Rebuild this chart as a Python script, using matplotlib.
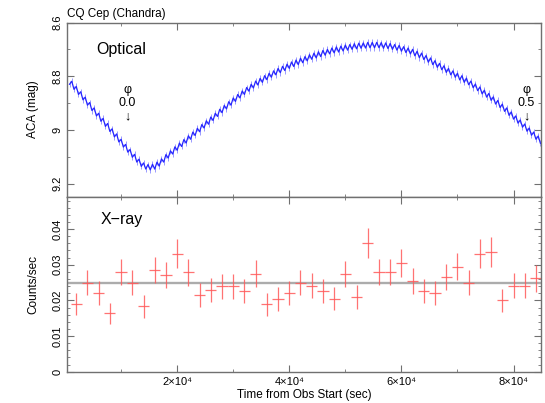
import numpy as np
import matplotlib
matplotlib.use("Agg")
import matplotlib.pyplot as plt
from matplotlib.ticker import MultipleLocator, FuncFormatter

plt.rcParams['font.family'] = ['Liberation Sans', 'DejaVu Sans']

# optical (ACA) light curve, one value every 400 s
opt_time = np.arange(800, 85000, 400)
opt_mag = [
    8.830, 8.819, 8.849, 8.838, 8.868, 8.858, 8.888, 8.878, 8.908, 8.898,
    8.928, 8.918, 8.948, 8.938, 8.968, 8.957, 8.987, 8.976, 9.006, 8.996,
    9.026, 9.015, 9.045, 9.035, 9.064, 9.054, 9.083, 9.073, 9.102, 9.091,
    9.120, 9.109, 9.136, 9.123, 9.146, 9.129, 9.149, 9.128, 9.146, 9.120,
    9.135, 9.108, 9.120, 9.092, 9.105, 9.078, 9.090, 9.063, 9.076, 9.049,
    9.062, 9.036, 9.049, 9.022, 9.035, 9.008, 9.021, 8.994, 9.007, 8.980,
    8.993, 8.966, 8.979, 8.952, 8.965, 8.938, 8.950, 8.923, 8.936, 8.909,
    8.922, 8.895, 8.908, 8.881, 8.894, 8.868, 8.881, 8.855, 8.868, 8.842,
    8.856, 8.830, 8.844, 8.818, 8.833, 8.808, 8.823, 8.798, 8.813, 8.789,
    8.804, 8.780, 8.795, 8.771, 8.787, 8.763, 8.779, 8.755, 8.771, 8.747,
    8.764, 8.740, 8.757, 8.733, 8.750, 8.727, 8.743, 8.720, 8.737, 8.714,
    8.732, 8.709, 8.727, 8.704, 8.722, 8.700, 8.717, 8.695, 8.713, 8.691,
    8.710, 8.688, 8.706, 8.684, 8.703, 8.682, 8.700, 8.679, 8.698, 8.677,
    8.696, 8.676, 8.695, 8.674, 8.694, 8.674, 8.694, 8.674, 8.694, 8.675,
    8.696, 8.676, 8.697, 8.678, 8.700, 8.682, 8.703, 8.685, 8.707, 8.690,
    8.712, 8.695, 8.717, 8.700, 8.724, 8.707, 8.731, 8.714, 8.738, 8.723,
    8.748, 8.732, 8.757, 8.742, 8.767, 8.752, 8.776, 8.761, 8.786, 8.771,
    8.795, 8.780, 8.804, 8.789, 8.814, 8.798, 8.823, 8.807, 8.832, 8.818,
    8.843, 8.829, 8.854, 8.840, 8.866, 8.852, 8.878, 8.864, 8.890, 8.877,
    8.904, 8.890, 8.917, 8.904, 8.931, 8.918, 8.946, 8.933, 8.960, 8.948,
    8.975, 8.963, 8.990, 8.978, 9.005, 8.993, 9.020, 9.008, 9.035, 9.023, 9.050,
]
opt_err = 0.011

# X-ray light curve, 2000 s bins
xray_time = np.arange(2000, 84001, 2000)
xray_halfwidth = 1000
xray_rate = [
    0.0190, 0.0250, 0.0221, 0.0164, 0.0279, 0.0250, 0.0183, 0.0285, 0.0271, 0.0331,
    0.0279, 0.0215, 0.0229, 0.0240, 0.0240, 0.0226, 0.0275, 0.0189, 0.0204, 0.0221,
    0.0250, 0.0241, 0.0226, 0.0205, 0.0274, 0.0209, 0.0361, 0.0280, 0.0280, 0.0305,
    0.0255, 0.0226, 0.0220, 0.0265, 0.0295, 0.0250, 0.0331, 0.0336, 0.0200, 0.0241,
    0.0241, 0.0262,
]
xray_err = [
    0.0031, 0.0036, 0.0034, 0.0029, 0.0037, 0.0036, 0.0031, 0.0037, 0.0037, 0.0041,
    0.0038, 0.0034, 0.0034, 0.0035, 0.0035, 0.0033, 0.0037, 0.0032, 0.0033, 0.0034,
    0.0036, 0.0035, 0.0034, 0.0033, 0.0037, 0.0033, 0.0043, 0.0037, 0.0037, 0.0039,
    0.0036, 0.0034, 0.0034, 0.0036, 0.0038, 0.0036, 0.0041, 0.0041, 0.0032, 0.0035,
    0.0035, 0.0038,
]
mean_rate = 0.025

# orbital phase markers
phase_labels = ["0.0", "0.5"]
phase_times = [11100, 82300]

W, H = 545, 403
fig = plt.figure(figsize=(W / 100, H / 100), dpi=100)
ax1 = fig.add_axes([67 / W, 1 - 197 / H, 474 / W, 174.5 / H])
ax2 = fig.add_axes([67 / W, 1 - 371.7 / H, 474 / W, 174.7 / H])

spine_col = '#707070'
for ax in (ax1, ax2):
    for s in ax.spines.values():
        s.set_color(spine_col)
        s.set_linewidth(1.0)
    ax.set_xlim(350, 84900)
    ax.xaxis.set_major_locator(MultipleLocator(20000))
    ax.xaxis.set_minor_locator(MultipleLocator(10000))
    ax.tick_params(which='both', direction='in', top=True, right=True,
                   color=spine_col, labelsize=8)
    ax.tick_params(which='major', length=5)
    ax.tick_params(which='minor', length=2.5)
    ax.tick_params(axis='y', labelrotation=90)

# top panel: optical
ax1.errorbar(opt_time, opt_mag, yerr=opt_err, fmt='-', color='#2626ff', lw=0.9,
             ecolor='#9a9aff', elinewidth=0.7, capsize=0)
ax1.set_ylim(9.25, 8.6)
ax1.yaxis.set_major_locator(MultipleLocator(0.2))
ax1.yaxis.set_minor_locator(MultipleLocator(0.1))
ax1.yaxis.set_major_formatter(FuncFormatter(lambda v, p: "%g" % round(v, 2)))
ax1.tick_params(axis='x', labelbottom=False)
for lab in ax1.get_yticklabels():
    lab.set_va('center')
ax1.text(0.061, 0.82, "Optical", transform=ax1.transAxes, fontsize=11.5)
for lab, t in zip(phase_labels, phase_times):
    ax1.text(t, 8.90, "\u03c6\n" + lab + "\n\u2193", ha='center', va='center',
             fontsize=9, linespacing=1.1)

# bottom panel: X-ray
ax2.axhline(mean_rate, color='#acacac', lw=1.7, zorder=1)
ax2.errorbar(xray_time, xray_rate, xerr=xray_halfwidth, yerr=xray_err, fmt='none',
             ecolor='#ff5a5a', elinewidth=0.9, alpha=0.85, capsize=0, zorder=2)
ax2.set_ylim(0, 0.049)
ax2.yaxis.set_major_locator(MultipleLocator(0.01))
ax2.yaxis.set_minor_locator(MultipleLocator(0.002))
ax2.yaxis.set_major_formatter(FuncFormatter(lambda v, p: "%g" % round(v, 3)))
ax2.xaxis.set_major_formatter(
    FuncFormatter(lambda v, p: "%d\u00d710\u2074" % round(v / 1e4) if v > 0 else "0"))
for lab in ax2.get_yticklabels():
    lab.set_va('center')
ax2.text(0.07, 0.845, "X\u2212ray", transform=ax2.transAxes, fontsize=11.5)

fig.text(67 / W, 1 - 17 / H, "CQ Cep (Chandra)", fontsize=8.5, va='baseline')
fig.text(33 / W, 1 - 109.5 / H, "ACA (mag)", rotation=90, ha='center', va='center', fontsize=8.5)
fig.text(33 / W, 1 - 285 / H, "Counts/sec", rotation=90, ha='center', va='center', fontsize=8.5)
fig.text(304 / W, 1 - 395 / H, "Time from Obs Start (sec)", ha='center', va='center', fontsize=8.5)

fig.savefig("out.png", dpi=100)
